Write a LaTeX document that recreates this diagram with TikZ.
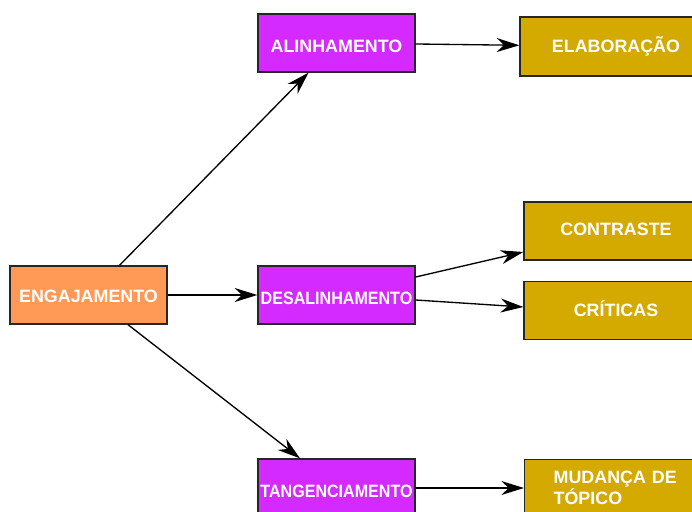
\documentclass[tikz,border=0pt]{standalone}
\usepackage{fontspec}
\setmainfont{Liberation Sans}
\usetikzlibrary{arrows.meta,calc}

\definecolor{engcolor}{RGB}{255,153,85}
\definecolor{midcolor}{RGB}{212,42,255}
\definecolor{endcolor}{RGB}{212,170,0}

\tikzset{
  >={Stealth[length=17pt,width=10.5pt,inset=5.5pt]},
  box/.style={draw=black!85, line width=1pt, text=white,
    font=\fontsize{13.4}{15.75}\selectfont\bfseries,
    text height=9.6pt, text depth=0pt,
    minimum width=117.75pt, minimum height=43.5pt, inner sep=0pt},
  engbox/.style={box, fill=engcolor},
  midbox/.style={box, fill=midcolor},
  endbox/.style={box, fill=endcolor, minimum width=144pt}
}

\begin{document}
\begin{tikzpicture}[x=0.75pt, y=-0.75pt, line width=1pt]
\clip (0,0) rectangle (692,511);

\node [engbox] (eng) at (88.5,295) {\raisebox{-0.7pt}{ENGAJAMENTO}};

\node [midbox] (ali) at (336.5,43) {\raisebox{-2.6pt}{ALINHAMENTO}};
\node [midbox] (des) at (336.5,295) {\raisebox{-2.2pt}{\scalebox{0.9}[1]{DESALINHAMENTO}}};
\node [midbox] (tan) at (336.5,488) {\raisebox{-2.2pt}{\scalebox{0.9}[1]{TANGENCIAMENTO}}};

\node [endbox, minimum height=44.25pt] (ela) at (616,46.5) {ELABORAÇÃO};
\node [endbox, minimum width=138pt] (con) at (616,231) {\raisebox{1.5pt}{CONTRASTE}};
\node [endbox, minimum width=138pt] (cri) at (616,310.5) {CRÍTICAS};
\node [endbox, anchor=north west, align=left, text width=100.5pt, inner xsep=21.75pt,
  text height=, text depth=] (mud) at (524,458.5) {MUDANÇA DE\\TÓPICO};

% engajamento
\draw [->] ($(eng.north)+(31,0)$) -- ($(ali.south)+(-28,0)$);
\draw [->] (eng) -- (des);
\draw [->] ($(eng.south)+(39.5,0)$) -- ($(tan.north)+(-36.5,0)$);

% second level
\draw [->] (ali) -- (ela);
\draw [->] ($(des.east)+(0,-18)$) -- ($(con.west)+(0,21)$);
\draw [->] ($(des.east)+(0,5)$) -- ($(cri.west)+(0,-3.5)$);
\draw [->] (tan.east) -- (mud.west |- tan.east);
\end{tikzpicture}
\end{document}
